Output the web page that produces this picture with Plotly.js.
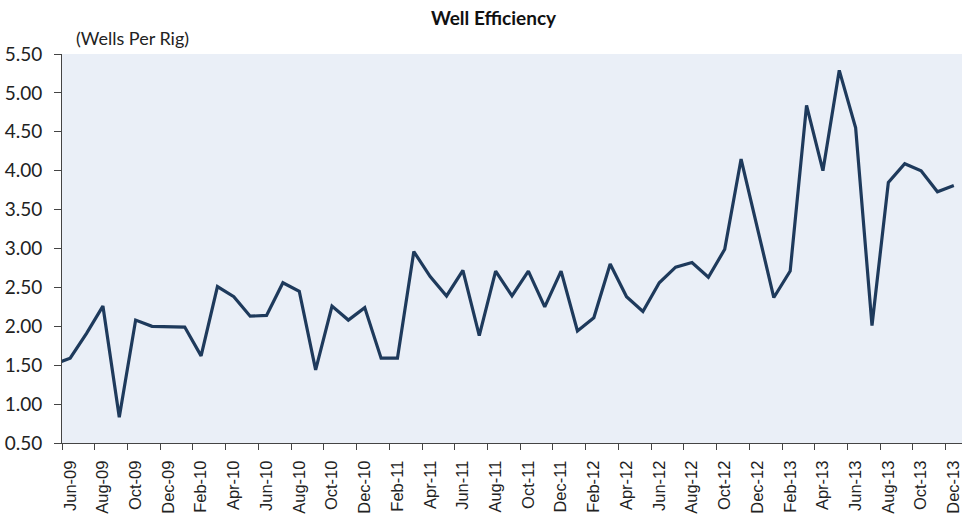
<!DOCTYPE html>
<html>
<head>
<meta charset="utf-8">
<script src="https://cdn.plot.ly/plotly-3.0.1.min.js"></script>
<style>html,body{margin:0;padding:0;background:#fff;}#chart{width:962px;height:521px;}</style>
</head>
<body>
<div id="chart"></div>
<script>
// Months (May-09 lies just left of the visible axis range, as in the original)
var months = ["May-09","Jun-09","Jul-09","Aug-09","Sep-09","Oct-09","Nov-09","Dec-09",
  "Jan-10","Feb-10","Mar-10","Apr-10","May-10","Jun-10","Jul-10","Aug-10","Sep-10","Oct-10","Nov-10","Dec-10",
  "Jan-11","Feb-11","Mar-11","Apr-11","May-11","Jun-11","Jul-11","Aug-11","Sep-11","Oct-11","Nov-11","Dec-11",
  "Jan-12","Feb-12","Mar-12","Apr-12","May-12","Jun-12","Jul-12","Aug-12","Sep-12","Oct-12","Nov-12","Dec-12",
  "Jan-13","Feb-13","Mar-13","Apr-13","May-13","Jun-13","Jul-13","Aug-13","Sep-13","Oct-13","Nov-13","Dec-13"];

var wellsPerRig = [1.51, 1.59, 1.91, 2.26, 0.83, 2.08, 2.00, 1.99,
  1.99, 1.62, 2.51, 2.38, 2.13, 2.14, 2.56, 2.45, 1.44, 2.26, 2.08, 2.24,
  1.59, 1.59, 2.96, 2.64, 2.39, 2.72, 1.88, 2.71, 2.39, 2.71, 2.25, 2.71,
  1.94, 2.11, 2.80, 2.38, 2.19, 2.56, 2.76, 2.82, 2.63, 2.99, 4.15, 3.26,
  2.37, 2.71, 4.84, 4.00, 5.29, 4.55, 2.01, 3.85, 4.09, 4.00, 3.73, 3.81];

var tickLabels = ["Jun-09","Aug-09","Oct-09","Dec-09","Feb-10","Apr-10","Jun-10","Aug-10","Oct-10","Dec-10",
  "Feb-11","Apr-11","Jun-11","Aug-11","Oct-11","Dec-11","Feb-12","Apr-12","Jun-12","Aug-12","Oct-12","Dec-12",
  "Feb-13","Apr-13","Jun-13","Aug-13","Oct-13","Dec-13"];

var yTicks = [0.5,1,1.5,2,2.5,3,3.5,4,4.5,5,5.5];

// category index (Jun-09 = 0)
var xIdx = months.map(function(m, i){ return i - 1; });
var tickPos = tickLabels.map(function(l){ return months.indexOf(l) - 1; });
var boundaryPos = tickPos.map(function(p){ return p - 0.5; });

var trace = {
  x: xIdx, y: wellsPerRig, type: 'scatter', mode: 'lines',
  line: {color: '#1e3a5c', width: 3.2}, text: months, hoverinfo: 'text+y'
};

var layout = {
  width: 962, height: 521,
  margin: {l: 62, r: 0, t: 54, b: 78, pad: 0},
  paper_bgcolor: '#ffffff', plot_bgcolor: '#eaeff7',
  showlegend: false,
  title: {text: 'Well Efficiency', x: 0.513, xref: 'container', xanchor: 'center',
          y: 0.965, yref: 'container', yanchor: 'middle',
          font: {family: 'Lato', size: 19, color: '#111', weight: 'bold'}},
  xaxis: {
    range: [-0.5, 54.5], showgrid: false, zeroline: false,
    showline: true, linecolor: '#444', linewidth: 1,
    tickmode: 'array', tickvals: tickPos, ticktext: tickLabels, ticks: '',
    tickangle: -90, tickfont: {family: 'Liberation Sans', size: 16.5, color: '#222'},
    ticklabelstandoff: 10, ticklabeloverflow: 'allow',
    minor: {tickmode: 'array', tickvals: boundaryPos, ticks: 'outside', ticklen: 6, tickcolor: '#444', tickwidth: 1, showgrid: false}
  },
  yaxis: {
    range: [0.5, 5.5], tickmode: 'array', tickvals: yTicks, tickformat: '.2f',
    showgrid: false, zeroline: false, showline: true, linecolor: '#444', linewidth: 1,
    ticks: 'outside', ticklen: 7, tickcolor: '#444', tickwidth: 1,
    tickfont: {family: 'Lato', size: 19, color: '#222'}, ticklabelstandoff: 8
  },
  annotations: [{
    text: '(Wells Per Rig)', xref: 'paper', yref: 'paper', x: 0.0133, y: 1.0, yshift: 16,
    xanchor: 'left', yanchor: 'middle', showarrow: false,
    font: {family: 'Lato', size: 18, color: '#222'}
  }]
};

Plotly.newPlot('chart', [trace], layout, {displayModeBar: false, staticPlot: true});
</script>
</body>
</html>
